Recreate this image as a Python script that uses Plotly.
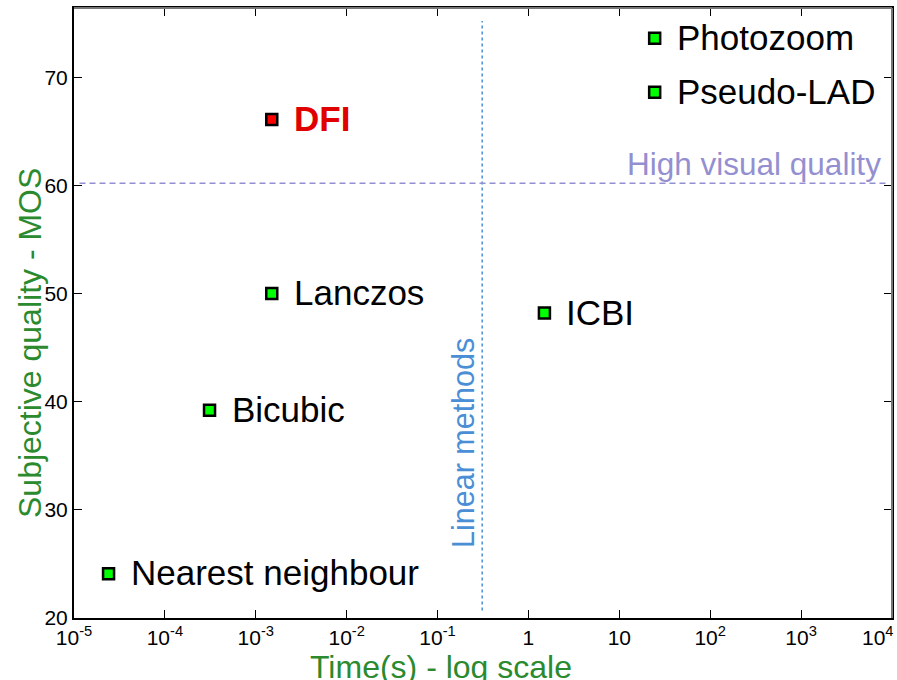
import math
import plotly.graph_objects as go

methods = ["Nearest neighbour", "Bicubic", "Lanczos", "DFI", "ICBI", "Pseudo-LAD", "Photozoom"]
time_s = [2.4e-5, 3.1e-4, 1.5e-3, 1.5e-3, 1.5, 24.5, 24.5]
mos = [24.1, 39.2, 50.0, 66.1, 48.2, 68.6, 73.6]
highlight = [False, False, False, True, False, False, False]

x_tickvals = [1e-5, 1e-4, 1e-3, 1e-2, 1e-1, 1, 10, 1e2, 1e3, 1e4]
x_ticktext = ["10<sup>-5</sup>", "10<sup>-4</sup>", "10<sup>-3</sup>", "10<sup>-2</sup>",
              "10<sup>-1</sup>", "1", "10", "10<sup>2</sup>", "10<sup>3</sup>", "10<sup>4</sup>"]
y_tickvals = [20, 30, 40, 50, 60, 70]

linear_limit_time = 0.31
high_quality_mos = 60.2

FONT = "Liberation Sans, Arial, sans-serif"
GREEN = "#2b8a2e"
BLUE = "#4a8fd6"
LAVENDER = "#948fd0"

fig = go.Figure()

# threshold lines
fig.add_trace(go.Scatter(
    x=[linear_limit_time, linear_limit_time], y=[20.7, 75.2], mode="lines",
    line=dict(color=BLUE, width=1.5, dash="3px,3px"), hoverinfo="skip", showlegend=False))
fig.add_trace(go.Scatter(
    x=[1.15e-5, 8.5e3], y=[high_quality_mos, high_quality_mos], mode="lines",
    line=dict(color=LAVENDER, width=1.5, dash="6px,4px"), hoverinfo="skip", showlegend=False))

fig.add_trace(go.Scatter(
    x=time_s, y=mos, mode="markers",
    marker=dict(symbol="square", size=11,
                color=["#ff0000" if h else "#00ff00" for h in highlight],
                line=dict(color="black", width=2.5)),
    showlegend=False))

for m, t, q, h in zip(methods, time_s, mos, highlight):
    fig.add_annotation(
        x=math.log10(t), y=q, xref="x", yref="y", text=f"<b>{m}</b>" if h else m,
        showarrow=False, xanchor="left", yanchor="middle", xshift=20, yshift=1,
        font=dict(family=FONT, size=35, color="#e00000" if h else "black"))

fig.add_annotation(
    x=math.log10(linear_limit_time), y=36.2, xref="x", yref="y", text="Linear methods",
    textangle=-90, showarrow=False, xanchor="right", xshift=0,
    font=dict(family=FONT, size=30.5, color=BLUE))
fig.add_annotation(
    x=math.log10(8.0e3), y=high_quality_mos, xref="x", yref="y", text="High visual quality",
    showarrow=False, xanchor="right", yanchor="bottom", yshift=-1,
    font=dict(family=FONT, size=31.5, color=LAVENDER))

# axis titles
fig.add_annotation(
    x=0.4487, y=-0.0803, xref="paper", yref="paper", text="Time(s) - log scale",
    showarrow=False, xanchor="center", yanchor="middle",
    font=dict(family=FONT, size=32, color=GREEN))
fig.add_annotation(
    x=-0.0538, y=0.4508, xref="paper", yref="paper", text="Subjective quality - MOS",
    showarrow=False, textangle=-90, xanchor="center", yanchor="middle",
    font=dict(family=FONT, size=32, color=GREEN))

# last x tick label, right-aligned at the axis end so it stays inside the page
shown_ticktext = x_ticktext[:-1] + [""]
fig.add_annotation(
    x=1, y=-0.0295, xref="paper", yref="paper", text=x_ticktext[-1],
    showarrow=False, xanchor="right", yanchor="middle", xshift=4,
    font=dict(family=FONT, size=21, color="black"))

# gray top and right frame lines
fig.add_shape(type="line", xref="paper", yref="paper", x0=0, x1=1, y0=1, y1=1,
              line=dict(color="#777777", width=2))
fig.add_shape(type="line", xref="paper", yref="paper", x0=1, x1=1, y0=0, y1=1,
              line=dict(color="#777777", width=2))

fig.update_layout(
    width=897, height=680,
    margin=dict(l=74, r=5, t=8, b=62, autoexpand=False),
    plot_bgcolor="white", paper_bgcolor="white",
    font=dict(family=FONT, color="black"),
    showlegend=False,
)
fig.update_xaxes(
    type="log", range=[-5, 4.0005], tickvals=x_tickvals, ticktext=shown_ticktext,
    ticks="inside", ticklen=8, tickcolor="black", mirror="ticks", automargin=False,
    showline=True, linecolor="black", linewidth=2, showgrid=False, zeroline=False,
    tickfont=dict(family=FONT, size=21, color="black"),
)
fig.update_yaxes(
    range=[20, 76.4], tickvals=y_tickvals, automargin=False,
    ticks="inside", ticklen=8, tickcolor="black", mirror="ticks",
    showline=True, linecolor="black", linewidth=2, showgrid=False, zeroline=False,
    tickfont=dict(family=FONT, size=21, color="black"),
)

fig.write_html(
    "out.html",
    config={"displayModeBar": False},
    post_script="document.body.style.margin='0';document.body.style.overflow='hidden';",
)
